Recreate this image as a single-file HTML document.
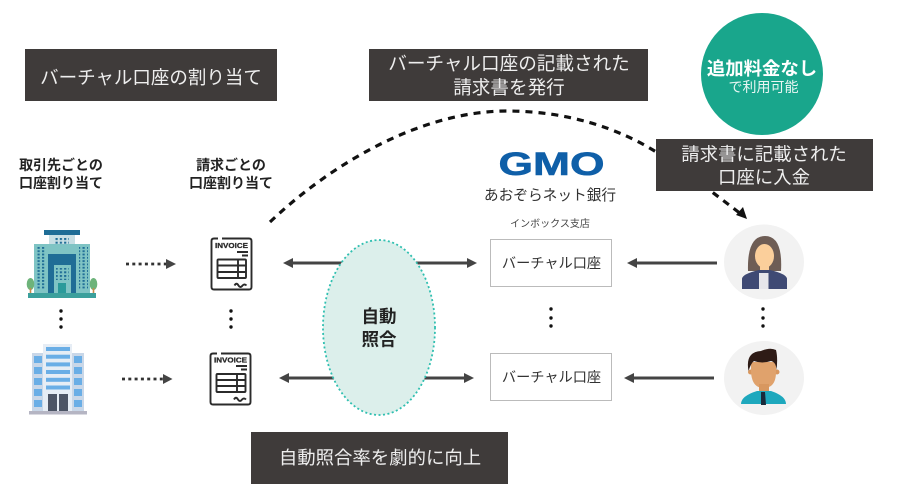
<!DOCTYPE html>
<html lang="ja">
<head>
<meta charset="utf-8">
<style>
html,body{margin:0;padding:0;background:#fff}
svg{display:block}
text{font-family:"Liberation Sans","Noto Sans CJK JP",sans-serif}
</style>
</head>
<body>
<svg width="897" height="501" viewBox="0 0 897 501" xmlns="http://www.w3.org/2000/svg">
<defs>
<pattern id="w1" x="37.500" y="247" width="4.500" height="3.300" patternUnits="userSpaceOnUse"><rect width="2.200" height="1.800" fill="#1f6d96"/></pattern>
<pattern id="w2" x="55.500" y="238" width="4.300" height="3.700" patternUnits="userSpaceOnUse"><rect width="2.200" height="2" fill="#1f6d96"/></pattern>
</defs>
<rect width="897" height="501" fill="#fff"/>

<!-- curve -->
<path d="M270 222 C330 165 420 111 507 111 C570 111 620 130 653 150 C680 167 712 192 741 214" fill="none" stroke="#111" stroke-width="3.200" stroke-dasharray="7 6"/>
<polygon points="747,219 736,215 743,207" fill="#111"/>

<!-- dark boxes -->
<rect x="25" y="49" width="252" height="52" fill="#3f3b3a"/>
<text x="151" y="84" font-size="18.500" fill="#eee" text-anchor="middle">バーチャル口座の割り当て</text>
<rect x="369" y="49" width="279" height="52" fill="#3f3b3a"/>
<text x="509" y="70" font-size="18.600" fill="#eee" text-anchor="middle">バーチャル口座の記載された</text>
<text x="509" y="94" font-size="18.600" fill="#eee" text-anchor="middle">請求書を発行</text>

<circle cx="762" cy="74" r="61" fill="#19a68c"/>
<text x="762" y="75" font-size="18.400" font-weight="bold" fill="#fff" text-anchor="middle">追加料金なし</text>
<text x="763.500" y="92" font-size="14" fill="#e8f6f3" text-anchor="middle">で利用可能</text>

<rect x="656" y="139" width="217" height="52" fill="#3f3b3a"/>
<text x="764" y="160.500" font-size="18.400" fill="#eee" text-anchor="middle">請求書に記載された</text>
<text x="764" y="183.500" font-size="18.400" fill="#eee" text-anchor="middle">口座に入金</text>

<rect x="251" y="432" width="257" height="52" fill="#3f3b3a"/>
<text x="380" y="464" font-size="18.400" fill="#eee" text-anchor="middle">自動照合率を劇的に向上</text>

<!-- column headings -->
<g font-size="14" font-weight="bold" fill="#222" text-anchor="middle">
<text x="61" y="170">取引先ごとの</text>
<text x="61" y="188">口座割り当て</text>
<text x="231" y="170">請求ごとの</text>
<text x="231" y="188">口座割り当て</text>
</g>

<!-- GMO -->
<text x="551.500" y="175" font-size="32" font-weight="bold" fill="#0f5fa8" stroke="#0f5fa8" stroke-width=".6" text-anchor="middle" textLength="106" lengthAdjust="spacingAndGlyphs">GMO</text>
<text x="550" y="200" font-size="14.700" fill="#333" text-anchor="middle">あおぞらネット銀行</text>
<text x="550" y="227" font-size="10" fill="#444" text-anchor="middle">インボックス支店</text>

<!-- building 1 -->
<g>
<rect x="49" y="235" width="26" height="19" fill="#c8dfe4"/>
<rect x="55" y="238" width="14" height="12" fill="url(#w2)"/>
<rect x="44" y="230" width="36" height="5" fill="#1f6d96"/>
<rect x="34" y="244" width="56" height="49" fill="#7fc4c4"/>
<rect x="37" y="247" width="9" height="42" fill="url(#w1)"/>
<rect x="79" y="247" width="9" height="42" fill="url(#w1)"/>
<rect x="48" y="254" width="28" height="39" fill="#1f6d96"/>
<rect x="54" y="265" width="17" height="28" fill="#7fc4c4"/>
<rect x="56" y="268" width="13" height="12" fill="url(#w2)"/>
<rect x="58" y="283" width="8" height="10" fill="#2a9a9a"/>
<ellipse cx="30.500" cy="284" rx="3.800" ry="6" fill="#6db37a"/>
<ellipse cx="93.500" cy="284" rx="3.800" ry="6" fill="#6db37a"/>
<rect x="29.700" y="288" width="1.600" height="6" fill="#c98a4a"/>
<rect x="92.700" y="288" width="1.600" height="6" fill="#c98a4a"/>
<rect x="28" y="293" width="68" height="5" fill="#3ba09c"/>
</g>

<!-- building 2 -->
<g>
<rect x="32" y="353" width="52" height="58" fill="#c9d7e8"/>
<rect x="43" y="344" width="29" height="67" fill="#e6edf5"/>
<rect x="29" y="411" width="58" height="3.500" fill="#b5b5c3"/>
<g fill="#6aaee6">
<rect x="46" y="347" width="24" height="4"/>
<rect x="46" y="354.700" width="24" height="4"/>
<rect x="46" y="362.400" width="24" height="4"/>
<rect x="46" y="370" width="24" height="4"/>
<rect x="46" y="377.800" width="24" height="4"/>
<rect x="46" y="385.500" width="24" height="4"/>
<rect x="34" y="356" width="8" height="7"/><rect x="34" y="367" width="8" height="7"/><rect x="34" y="378" width="8" height="7"/><rect x="34" y="389" width="8" height="7"/><rect x="34" y="400" width="8" height="7"/>
<rect x="74" y="356" width="8" height="7"/><rect x="74" y="367" width="8" height="7"/><rect x="74" y="378" width="8" height="7"/><rect x="74" y="389" width="8" height="7"/><rect x="74" y="400" width="8" height="7"/>
</g>
<rect x="48" y="394" width="9" height="17" fill="#4d5566"/>
<rect x="59" y="394" width="9" height="17" fill="#4d5566"/>
</g>

<!-- vertical dots -->
<g fill="#111">
<circle cx="61" cy="311" r="1.700"/><circle cx="61" cy="319" r="1.700"/><circle cx="61" cy="327" r="1.700"/>
<circle cx="231" cy="311" r="1.700"/><circle cx="231" cy="319" r="1.700"/><circle cx="231" cy="327" r="1.700"/>
<circle cx="551" cy="309" r="1.700"/><circle cx="551" cy="318" r="1.700"/><circle cx="551" cy="326" r="1.700"/>
<circle cx="763" cy="309" r="1.700"/><circle cx="763" cy="318" r="1.700"/><circle cx="763" cy="326" r="1.700"/>
</g>

<!-- dotted arrows -->
<line x1="126" y1="264" x2="166" y2="264" stroke="#333" stroke-width="2.800" stroke-dasharray="3 3.300"/>
<polygon points="166,259 176,264 166,269" fill="#444"/>
<line x1="122" y1="379" x2="163" y2="379" stroke="#333" stroke-width="2.800" stroke-dasharray="3 3.300"/>
<polygon points="163,374 172.500,379 163,384" fill="#444"/>

<!-- invoice icons -->
<g fill="none" stroke="#2b2b2b" stroke-width="1.900">
<path d="M218 238.500 H214 Q211.500 238.500 211.500 241 V287 Q211.500 289.500 214 289.500 H249 Q251.500 289.500 251.500 287 V241 Q251.500 238.500 249 238.500 H222"/>
<rect x="217.500" y="259.500" width="28.500" height="18.500" rx="1"/>
<path d="M217.500 265.500 H246 M217.500 272 H246 M238 259.500 V278 M237 252 H248 M242 255.500 H248"/>
<path d="M234.500 285.500 q2 -3.500 4 0 q2 3 4 0 q2 -2 4 0"/>
<path d="M217 353.500 H213 Q210.500 353.500 210.500 356 V402 Q210.500 404.500 213 404.500 H248 Q250.500 404.500 250.500 402 V356 Q250.500 353.500 248 353.500 H221"/>
<rect x="216.500" y="374" width="29" height="18" rx="1"/>
<path d="M216.500 380 H245.500 M216.500 386 H245.500 M237 374 V392 M236 366 H247 M241 369.500 H247"/>
<path d="M234 399.500 q2 -3.500 4 0 q2 3 4 0 q2 -2 4 0"/>
</g>
<text x="231.500" y="248" font-size="7.500" font-weight="bold" fill="#2b2b2b" stroke="#2b2b2b" stroke-width=".3" text-anchor="middle" textLength="33" lengthAdjust="spacingAndGlyphs">INVOICE</text>
<text x="230.500" y="362.500" font-size="7.500" font-weight="bold" fill="#2b2b2b" stroke="#2b2b2b" stroke-width=".3" text-anchor="middle" textLength="33" lengthAdjust="spacingAndGlyphs">INVOICE</text>

<!-- solid arrows -->
<g stroke="#444" stroke-width="3">
<line x1="290" y1="263" x2="470" y2="263"/>
<line x1="286" y1="378" x2="467" y2="378"/>
<line x1="634" y1="263" x2="717" y2="263"/>
<line x1="631" y1="378" x2="714" y2="378"/>
</g>
<g fill="#444">
<polygon points="283,263 293,258 293,268"/>
<polygon points="279,378 289,373 289,383"/>
<polygon points="477,263 467,258 467,268"/>
<polygon points="474,378 464,373 464,383"/>
<polygon points="627,263 637,258 637,268"/>
<polygon points="624,378 634,373 634,383"/>
</g>

<!-- ellipse -->
<ellipse cx="379" cy="327.500" rx="56" ry="87.500" fill="#dcefeb" stroke="#2fbfb0" stroke-width="1.800" stroke-dasharray="2 2.500"/>
<text x="379" y="322.500" font-size="17.500" font-weight="bold" fill="#222" text-anchor="middle">自動</text>
<text x="379" y="345.500" font-size="17.500" font-weight="bold" fill="#222" text-anchor="middle">照合</text>

<!-- account boxes -->
<rect x="490.500" y="239.500" width="121" height="47" fill="#fff" stroke="#bbb"/>
<text x="551.500" y="268" font-size="14.200" fill="#333" text-anchor="middle">バーチャル口座</text>
<rect x="490.500" y="353.500" width="121" height="47" fill="#fff" stroke="#bbb"/>
<text x="551.500" y="382" font-size="14.200" fill="#333" text-anchor="middle">バーチャル口座</text>

<!-- woman -->
<ellipse cx="764" cy="262" rx="40" ry="37.500" fill="#f2f2f2"/>
<path d="M748 271 Q747 236 765 236 Q783 236 781 271Z" fill="#6e5d55"/>
<ellipse cx="764.500" cy="256" rx="9.500" ry="12" fill="#fbcf9b"/>
<rect x="760" y="264" width="9" height="10" fill="#fbcf9b"/>
<path d="M742 289 V279 Q742 274 759 270 L770 270 Q787 274 787 279 V289Z" fill="#3f4a74"/>
<rect x="759" y="273" width="9.500" height="16" fill="#e6e6ea"/>

<!-- man -->
<ellipse cx="764" cy="378" rx="40" ry="37" fill="#f2f2f2"/>
<circle cx="750.500" cy="372" r="2.500" fill="#d8975f"/>
<circle cx="777" cy="372" r="2.500" fill="#d8975f"/>
<path d="M751 362 V372 Q752 388 763.500 388 Q776 388 776 372 V362 Z" fill="#e0a26c"/>
<path d="M748.500 371 Q745 352 761 351 Q770 347 776 350 Q778 358 776.500 370 Q776 362 771 361 Q762 364 754 361 Q751 363 748.500 371Z" fill="#2e1b16"/>
<rect x="759" y="384" width="10" height="8" fill="#d8975f"/>
<path d="M741 404 Q741 396 757 391 H771 Q786 396 786 404Z" fill="#1ea8bd"/>
<polygon points="761,392 765,392 766,405 761,405" fill="#1a2a3a"/>
</svg>
</body>
</html>
